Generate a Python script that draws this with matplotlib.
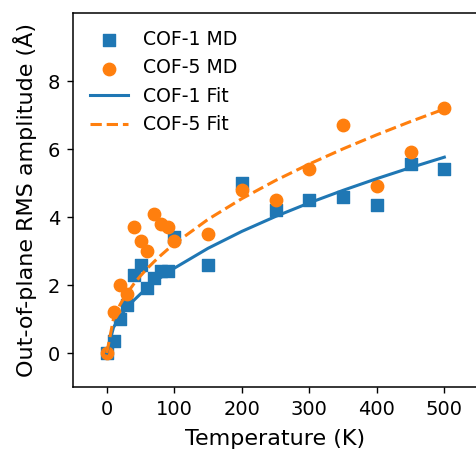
import numpy as np
import matplotlib
matplotlib.use("Agg")
import matplotlib.pyplot as plt

# temperatures (K) of the MD runs
temps = [0, 10, 20, 30, 40, 50, 60, 70, 80, 90, 100,
         150, 200, 250, 300, 350, 400, 450, 500]

# RMS out-of-plane amplitude (Angstrom)
cof1_md = [0.0, 0.35, 1.0, 1.4, 2.3, 2.6, 1.9, 2.2, 2.4, 2.4, 3.4,
           2.6, 5.0, 4.2, 4.5, 4.6, 4.35, 5.55, 5.4]
cof5_md = [0.0, 1.2, 2.0, 1.75, 3.7, 3.3, 3.0, 4.1, 3.8, 3.7, 3.3,
           3.5, 4.8, 4.5, 5.4, 6.7, 4.9, 5.9, 7.2]

# power law fit y = a * T^b (parameters estimated from the curves)
cof1_fit = (0.2275, 0.52)
cof5_fit = (0.321, 0.50)

T = np.array(temps, dtype=float)

fig = plt.figure(figsize=(4.76, 4.5), dpi=100)
ax = fig.add_axes([0.1534, 0.14, 0.851, 0.831])

ax.scatter(temps, cof1_md, marker="s", s=80, color="tab:blue", label="COF-1 MD")
ax.scatter(temps, cof5_md, marker="o", s=80, color="tab:orange", label="COF-5 MD")
ax.plot(T, cof1_fit[0] * T ** cof1_fit[1], "-", lw=2.2, color="tab:blue", label="COF-1 Fit")
ax.plot(T, cof5_fit[0] * T ** cof5_fit[1], "--", lw=2.2, color="tab:orange", label="COF-5 Fit")

ax.set_xlim(-50, 550)
ax.set_ylim(-1, 10)
ax.set_xticks([0, 100, 200, 300, 400, 500])
ax.set_yticks([0, 2, 4, 6, 8])
ax.tick_params(labelsize=14, length=4.5, width=1, pad=4.8)
for s in ax.spines.values():
    s.set_linewidth(1.1)
ax.set_xlabel("Temperature (K)", fontsize=16, labelpad=7)
ax.set_ylabel("Out-of-plane RMS amplitude (Å)", fontsize=16, labelpad=7.5)
ax.legend(loc="upper left", frameon=False, fontsize=13.6)

fig.savefig("out.png", dpi=100)
